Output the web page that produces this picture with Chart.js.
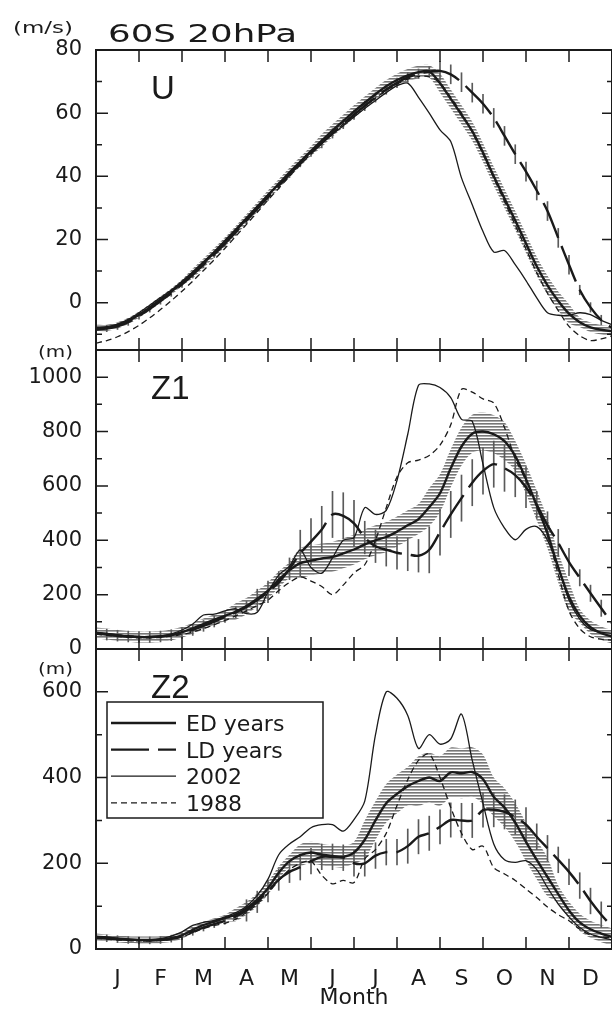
<!DOCTYPE html>
<html>
<head>
<meta charset="utf-8">
<title>60S 20hPa</title>
<script src="https://cdn.jsdelivr.net/npm/chart.js@4/dist/chart.umd.min.js"></script>
<style>
  html, body { margin: 0; padding: 0; background: #fff; overflow: hidden; }
  #wrap { position: relative; width: 612px; height: 1011px; overflow: hidden; }
  canvas { position: absolute; left: 0; top: 0; }
</style>
</head>
<body>
<div id="wrap">
  <canvas id="u-chart" width="620" height="1011"></canvas>
  <canvas id="z1-chart" width="620" height="1011"></canvas>
  <canvas id="z2-chart" width="620" height="1011"></canvas>
</div>
<script>
// Time axis in months from 1 January (quarter-month steps)
const days = [0, 0.25, 0.5, 0.75, 1, 1.25, 1.5, 1.75, 2, 2.25, 2.5, 2.75, 3, 3.25, 3.5, 3.75,
  4, 4.25, 4.5, 4.75, 5, 5.25, 5.5, 5.75, 6, 6.25, 6.5, 6.75, 7, 7.25, 7.5, 7.75,
  8, 8.25, 8.5, 8.75, 9, 9.25, 9.5, 9.75, 10, 10.25, 10.5, 10.75, 11, 11.25, 11.5, 11.75, 12];

const months = ['J', 'F', 'M', 'A', 'M', 'J', 'J', 'A', 'S', 'O', 'N', 'D'];
const monthMids = [0.5, 1.5, 2.5, 3.5, 4.5, 5.5, 6.5, 7.5, 8.5, 9.5, 10.5, 11.5];
const monthEdges = [1, 2, 3, 4, 5, 6, 7, 8, 9, 10, 11];

// U (m/s)
const uTicks = [0, 20, 40, 60, 80];
const uMinor = [-10, 10, 30, 50, 70];
const uEd = [-8, -8, -7.2, -5.8, -3.8, -1.5, 1, 3.5, 6.3, 9.3, 12.5, 15.8, 19.2, 22.8, 26.5, 30.2,
  34, 37.6, 41.2, 44.6, 48, 51.3, 54.5, 57.5, 60.5, 63.3, 66, 68.5, 70.5, 72, 73, 73.2,
  69.5, 64.5, 59.5, 54.3, 47.5, 40, 33, 26, 18.7, 11.5, 5.5, 0.5, -3.5, -6.2, -7.8, -8.6, -9];
const uEdErr = [1, 1, 1, 1, 1, 1, 1, 1, 1, 1.5, 1.5, 1.5, 1.5, 1.5, 1.5, 1.5, 1.5, 1.5, 1.5, 1.5, 1.5,
  2, 2, 2, 2, 2, 2, 2, 2, 2, 2, 2, 3, 3, 3, 3, 3, 3, 3, 3, 3, 3, 3, 3, 3, 1.5, 1.5, 1.5, 1.5];
const uLd = [-8.5, -8.2, -7.5, -6.2, -4.2, -2, 0.5, 3, 5.8, 8.8, 12, 15.3, 18.7, 22.3, 26, 29.7,
  33.4, 37, 40.6, 44, 47.3, 50.5, 53.6, 56.6, 59.5, 62.3, 65, 67.5, 69.6, 71.3, 72.5, 73.2,
  73.4, 72.3, 69.8, 66.5, 63, 58.5, 52.8, 47, 41.5, 35.5, 29, 20.5, 12, 4, -1.5, -5.5, -8];
const uLdErr = [1, 1, 1, 1, 1, 1, 1, 1, 1, 1, 1, 1, 1, 1, 1, 1, 1, 1, 1, 1, 1,
  1.5, 1.5, 1.5, 1.5, 1.5, 1.5, 1.5, 1.5, 1.5, 1.5, 1.5, 3, 3, 3, 3, 3, 3, 3, 3, 3, 3, 3, 3, 3, 1.5, 1.5, 1.5, 1.5];
const u2002 = [-7.8, -7.6, -6.8, -5.3, -3.2, -0.8, 1.6, 4, 6.8, 9.8, 13, 16.2, 19.8, 23.3, 27, 30.6,
  34.2, 37.6, 41, 44.3, 47.5, 50.5, 53.3, 56, 58.8, 61.5, 64, 66.5, 68.7, 69.5, 65, 60,
  54.7, 51, 39.5, 31, 22.5, 16, 16.5, 12, 7, 1.5, -3.2, -4, -4, -3.2, -3.8, -5.6, -7];
const u1988 = [-12.8, -12, -10.8, -9.2, -7.2, -4.8, -2.2, 0.6, 3.6, 6.8, 10.2, 13.6, 17.2, 21, 24.8, 28.6,
  32.5, 36.2, 40, 43.6, 47.2, 50.5, 53.6, 56.6, 59.5, 62.2, 64.8, 67.2, 69.2, 70.8, 71.6, 71.5,
  69.5, 65, 60, 54, 47, 39.5, 32, 24.5, 17, 9.5, 3, -2.5, -7.5, -10.5, -12, -11.5, -10.5];

// Z1 (m)
const z1Ticks = [0, 200, 400, 600, 800, 1000];
const z1Minor = [100, 300, 500, 700, 900];
const z1Ed = [59, 55, 50, 46, 44, 44, 46, 52, 62, 76, 92, 108, 122, 138, 158, 185,
  215, 255, 290, 316, 325, 333, 339, 352, 366, 385, 400, 412, 432, 455, 478, 522,
  573, 665, 745, 792, 800, 790, 765, 710, 625, 528, 425, 300, 192, 122, 80, 58, 45];
const z1EdErr = [20, 20, 20, 20, 20, 20, 20, 20, 20, 20, 20, 20, 20, 30, 30, 30, 30, 30, 30,
  55, 55, 55, 55, 55, 55, 55, 55, 55, 55, 55, 55, 70, 70, 70, 70, 70, 70, 70, 70,
  55, 55, 55, 55, 55, 55, 25, 25, 25, 25];
const z1Ld = [57, 53, 49, 46, 44, 44, 46, 51, 59, 70, 85, 101, 118, 135, 155, 180,
  210, 245, 295, 352, 395, 440, 495, 490, 462, 410, 378, 365, 354, 348, 343, 365,
  430, 495, 555, 612, 655, 680, 665, 640, 595, 530, 455, 390, 320, 262, 205, 150, 95];
const z1LdErr = [20, 20, 20, 20, 20, 20, 20, 20, 20, 20, 20, 20, 20, 20, 20, 40, 40, 40, 40,
  85, 85, 85, 85, 85, 85, 60, 60, 60, 60, 60, 60, 85, 85, 85, 85, 85, 85, 85, 85, 80, 75,
  50, 50, 50, 50, 30, 30, 30, 30];
const z12002 = [62, 57, 52, 48, 46, 45, 48, 56, 70, 92, 125, 128, 140, 148, 130, 135,
  210, 272, 305, 364, 300, 279, 335, 400, 410, 520, 495, 510, 620, 790, 970, 975,
  962, 925, 845, 838, 680, 520, 445, 402, 440, 450, 400, 300, 180, 110, 72, 62, 58];
const z11988 = [55, 50, 46, 43, 41, 41, 43, 47, 53, 62, 75, 90, 105, 122, 140, 160,
  180, 215, 245, 265, 250, 230, 200, 235, 280, 310, 400, 520, 633, 685, 695, 712,
  750, 825, 955, 945, 920, 905, 815, 700, 620, 525, 420, 275, 140, 75, 45, 36, 33];

// Z2 (m)
const z2Ticks = [0, 200, 400, 600];
const z2Minor = [100, 300, 500];
const z2Ed = [28, 26, 24, 22, 21, 21, 22, 25, 32, 45, 56, 64, 72, 80, 95, 115,
  142, 178, 205, 219, 225, 220, 217, 215, 225, 255, 300, 340, 362, 380, 392, 400,
  392, 412, 410, 413, 396, 355, 330, 295, 250, 208, 168, 128, 90, 62, 46, 36, 28];
const z2EdErr = [8, 8, 8, 8, 8, 8, 8, 8, 8, 8, 8, 8, 8, 15, 15, 15, 15, 15, 15,
  25, 25, 25, 25, 25, 25, 45, 45, 45, 45, 45, 58, 58, 58, 58, 58, 58, 58,
  45, 45, 45, 45, 45, 45, 20, 20, 20, 20, 20, 20];
const z2Ld = [27, 25, 23, 21, 20, 20, 21, 24, 30, 40, 50, 58, 66, 76, 90, 110,
  135, 162, 180, 191, 205, 215, 215, 213, 200, 200, 218, 226, 226, 240, 262, 270,
  285, 301, 300, 300, 324, 325, 320, 308, 290, 262, 235, 208, 180, 148, 112, 80, 52];
const z2LdErr = [8, 8, 8, 8, 8, 8, 8, 8, 8, 8, 8, 8, 8, 8, 25, 25, 25, 25, 25,
  30, 30, 30, 30, 30, 30, 30, 30, 30, 30, 40, 40, 40, 40, 40, 40, 40, 40, 40, 40, 40, 40,
  30, 30, 30, 30, 30, 30, 30, 30];
const z22002 = [30, 28, 25, 23, 22, 22, 24, 30, 40, 55, 62, 67, 75, 85, 100, 125,
  163, 220, 245, 262, 283, 290, 290, 275, 302, 345, 500, 600, 585, 545, 468, 500,
  478, 490, 548, 440, 340, 245, 208, 202, 206, 185, 143, 105, 75, 50, 35, 27, 21];
const z21988 = [25, 23, 21, 20, 19, 19, 20, 22, 28, 38, 48, 55, 60, 70, 85, 105,
  130, 160, 185, 200, 205, 172, 152, 160, 155, 210, 232, 270, 335, 395, 440, 455,
  400, 330, 270, 232, 240, 190, 175, 160, 140, 120, 98, 80, 66, 46, 33, 28, 26];

const ink = '#1a1a1a';
const fontFamily = '"DejaVu Sans", sans-serif';

Chart.defaults.font.family = fontFamily;
Chart.defaults.color = ink;

// horizontal line fill for the ED spread
function makeHatch() {
  const c = document.createElement('canvas');
  c.width = 6;
  c.height = 3;
  const g = c.getContext('2d');
  g.fillStyle = '#777';
  g.fillRect(0, 0, 6, 1);
  g.fillStyle = '#ababab';
  g.fillRect(0, 1, 6, 1);
  return g.createPattern(c, 'repeat');
}

function stretchText(ctx, text, x, y, font, width) {
  ctx.font = font;
  const w = ctx.measureText(text).width;
  ctx.save();
  ctx.translate(x, y);
  ctx.scale(width / w, 1);
  ctx.fillText(text, 0, 0);
  ctx.restore();
}

const framePlugin = {
  id: 'frame',
  afterDatasetsDraw(chart, args, opts) {
    const { ctx, chartArea: a, scales: { x, y } } = chart;
    ctx.save();
    ctx.strokeStyle = ink;
    ctx.lineWidth = 1.5;
    ctx.beginPath();
    monthEdges.forEach(m => {
      const px = x.getPixelForValue(m);
      ctx.moveTo(px, a.top);
      ctx.lineTo(px, a.top + 12);
      ctx.moveTo(px, a.bottom);
      ctx.lineTo(px, a.bottom - 12);
    });
    y.ticks.forEach(tk => {
      const py = y.getPixelForValue(tk.value);
      ctx.moveTo(a.left, py);
      ctx.lineTo(a.left + 12, py);
      ctx.moveTo(a.right, py);
      ctx.lineTo(a.right - 10, py);
    });
    opts.minor.forEach(v => {
      const py = y.getPixelForValue(v);
      ctx.moveTo(a.left, py);
      ctx.lineTo(a.left + 6, py);
      ctx.moveTo(a.right, py);
      ctx.lineTo(a.right - 5, py);
    });
    ctx.stroke();
    ctx.lineWidth = 2;
    ctx.strokeRect(a.left, a.top, a.right - a.left, a.bottom - a.top);
    ctx.restore();
  }
};

const panelTextPlugin = {
  id: 'panelText',
  afterDraw(chart, args, opts) {
    const { ctx, chartArea: a } = chart;
    ctx.save();
    ctx.fillStyle = ink;
    ctx.textBaseline = 'alphabetic';
    ctx.textAlign = 'left';
    ctx.font = '33px "Liberation Sans", sans-serif';
    ctx.fillText(opts.label, a.left + 55, a.top + 49);
    const u = opts.unit;
    stretchText(ctx, u.text, u.x, u.y, '15px ' + fontFamily, u.w);
    if (opts.title) {
      const t = opts.title;
      stretchText(ctx, t.text, t.x, t.y, '25px ' + fontFamily, t.w);
    }
    ctx.restore();
  }
};

const boxLegendPlugin = {
  id: 'boxLegend',
  afterDraw(chart, args, opts) {
    if (!opts.show) return;
    const { ctx, chartArea: a } = chart;
    const left = a.left + 11;
    const top = a.top + 53;
    const w = 216;
    const h = 116;
    ctx.save();
    ctx.fillStyle = '#fff';
    ctx.fillRect(left, top, w, h);
    ctx.strokeStyle = ink;
    ctx.lineWidth = 1.5;
    ctx.strokeRect(left, top, w, h);
    ctx.font = '22px ' + fontFamily;
    ctx.textBaseline = 'alphabetic';
    chart.data.datasets.slice(0, 4).forEach((ds, i) => {
      const yy = top + 21 + i * 26.6;
      ctx.setLineDash(ds.borderDash || []);
      ctx.lineWidth = ds.borderWidth;
      ctx.beginPath();
      ctx.moveTo(left + 4, yy);
      ctx.lineTo(left + 69, yy);
      ctx.stroke();
      ctx.setLineDash([]);
      ctx.fillStyle = ink;
      ctx.fillText(ds.label, left + 79, yy + 8);
    });
    ctx.restore();
  }
};

function buildChart(id, p) {
  const pts = arr => arr.map((v, i) => ({ x: days[i], y: v }));
  const hi = p.ed.map((v, i) => v + p.edErr[i]);
  const lo = p.ed.map((v, i) => v - p.edErr[i]);
  const bars = p.ld.map((v, i) => ({ x: days[i], y: [v - p.ldErr[i], v + p.ldErr[i]] }));

  return new Chart(document.getElementById(id), {
    type: 'line',
    data: {
      datasets: [
        { label: 'ED years', data: pts(p.ed), borderWidth: 2.4 },
        { label: 'LD years', data: pts(p.ld), borderWidth: 2.4, borderDash: [38, 9] },
        { label: '2002', data: pts(p.y2002), borderWidth: 1.3 },
        { label: '1988', data: pts(p.y1988), borderWidth: 1.3, borderDash: [6, 4] },
        { type: 'bar', label: 'LD spread', data: bars, backgroundColor: '#5a5a5a',
          borderWidth: 0, barThickness: 1 },
        { label: 'ED upper', data: pts(hi), borderColor: 'transparent', fill: '+1',
          backgroundColor: makeHatch() },
        { label: 'ED lower', data: pts(lo), borderColor: 'transparent', fill: false }
      ]
    },
    options: {
      responsive: false,
      animation: false,
      devicePixelRatio: 1,
      layout: { padding: p.padding },
      elements: {
        point: { radius: 0 },
        line: { tension: 0.3, borderColor: ink, borderCapStyle: 'butt', fill: false }
      },
      plugins: {
        legend: { display: false },
        tooltip: { enabled: false },
        frame: { minor: p.minor },
        panelText: { label: p.label, unit: p.unit, title: p.title },
        boxLegend: { show: p.legend }
      },
      scales: {
        x: {
          type: 'linear', min: 0, max: 12, offset: false, display: p.showMonths,
          grid: { display: false, drawTicks: false },
          border: { display: false },
          afterBuildTicks: s => { s.ticks = monthMids.map(v => ({ value: v })); },
          ticks: { padding: 17, autoSkip: false, maxRotation: 0, font: { size: 22 },
            callback: (v, i) => months[i] },
          title: { display: true, text: 'Month', padding: 0, font: { size: 22 } },
          afterFit: s => { s.height = p.showMonths ? 62 : 0; }
        },
        y: {
          type: 'linear', min: p.min, max: p.max,
          grid: { display: false, drawTicks: false },
          border: { display: false },
          afterBuildTicks: s => { s.ticks = p.ticks.map(v => ({ value: v })); },
          ticks: { padding: 14, font: { size: 21 }, callback: v => String(v) },
          afterFit: s => { s.width = 96; }
        }
      }
    },
    plugins: [framePlugin, panelTextPlugin, boxLegendPlugin]
  });
}

buildChart('u-chart', {
  ed: uEd, edErr: uEdErr, ld: uLd, ldErr: uLdErr, y2002: u2002, y1988: u1988,
  min: -15, max: 80, ticks: uTicks, minor: uMinor,
  padding: { left: 0, right: 8, top: 50, bottom: 661 },
  label: 'U', unit: { text: '(m/s)', x: 13, y: 33, w: 60 },
  title: { text: '60S 20hPa', x: 108, y: 42, w: 189 },
  showMonths: false, legend: false
});

buildChart('z1-chart', {
  ed: z1Ed, edErr: z1EdErr, ld: z1Ld, ldErr: z1LdErr, y2002: z12002, y1988: z11988,
  min: 0, max: 1100, ticks: z1Ticks, minor: z1Minor,
  padding: { left: 0, right: 8, top: 350, bottom: 362 },
  label: 'Z1', unit: { text: '(m)', x: 38, y: 357, w: 35 },
  showMonths: false, legend: false
});

buildChart('z2-chart', {
  ed: z2Ed, edErr: z2EdErr, ld: z2Ld, ldErr: z2LdErr, y2002: z22002, y1988: z21988,
  min: 0, max: 700, ticks: z2Ticks, minor: z2Minor,
  padding: { left: 0, right: 8, top: 649, bottom: 0 },
  label: 'Z2', unit: { text: '(m)', x: 38, y: 674, w: 35 },
  showMonths: true, legend: true
});
</script>
</body>
</html>
